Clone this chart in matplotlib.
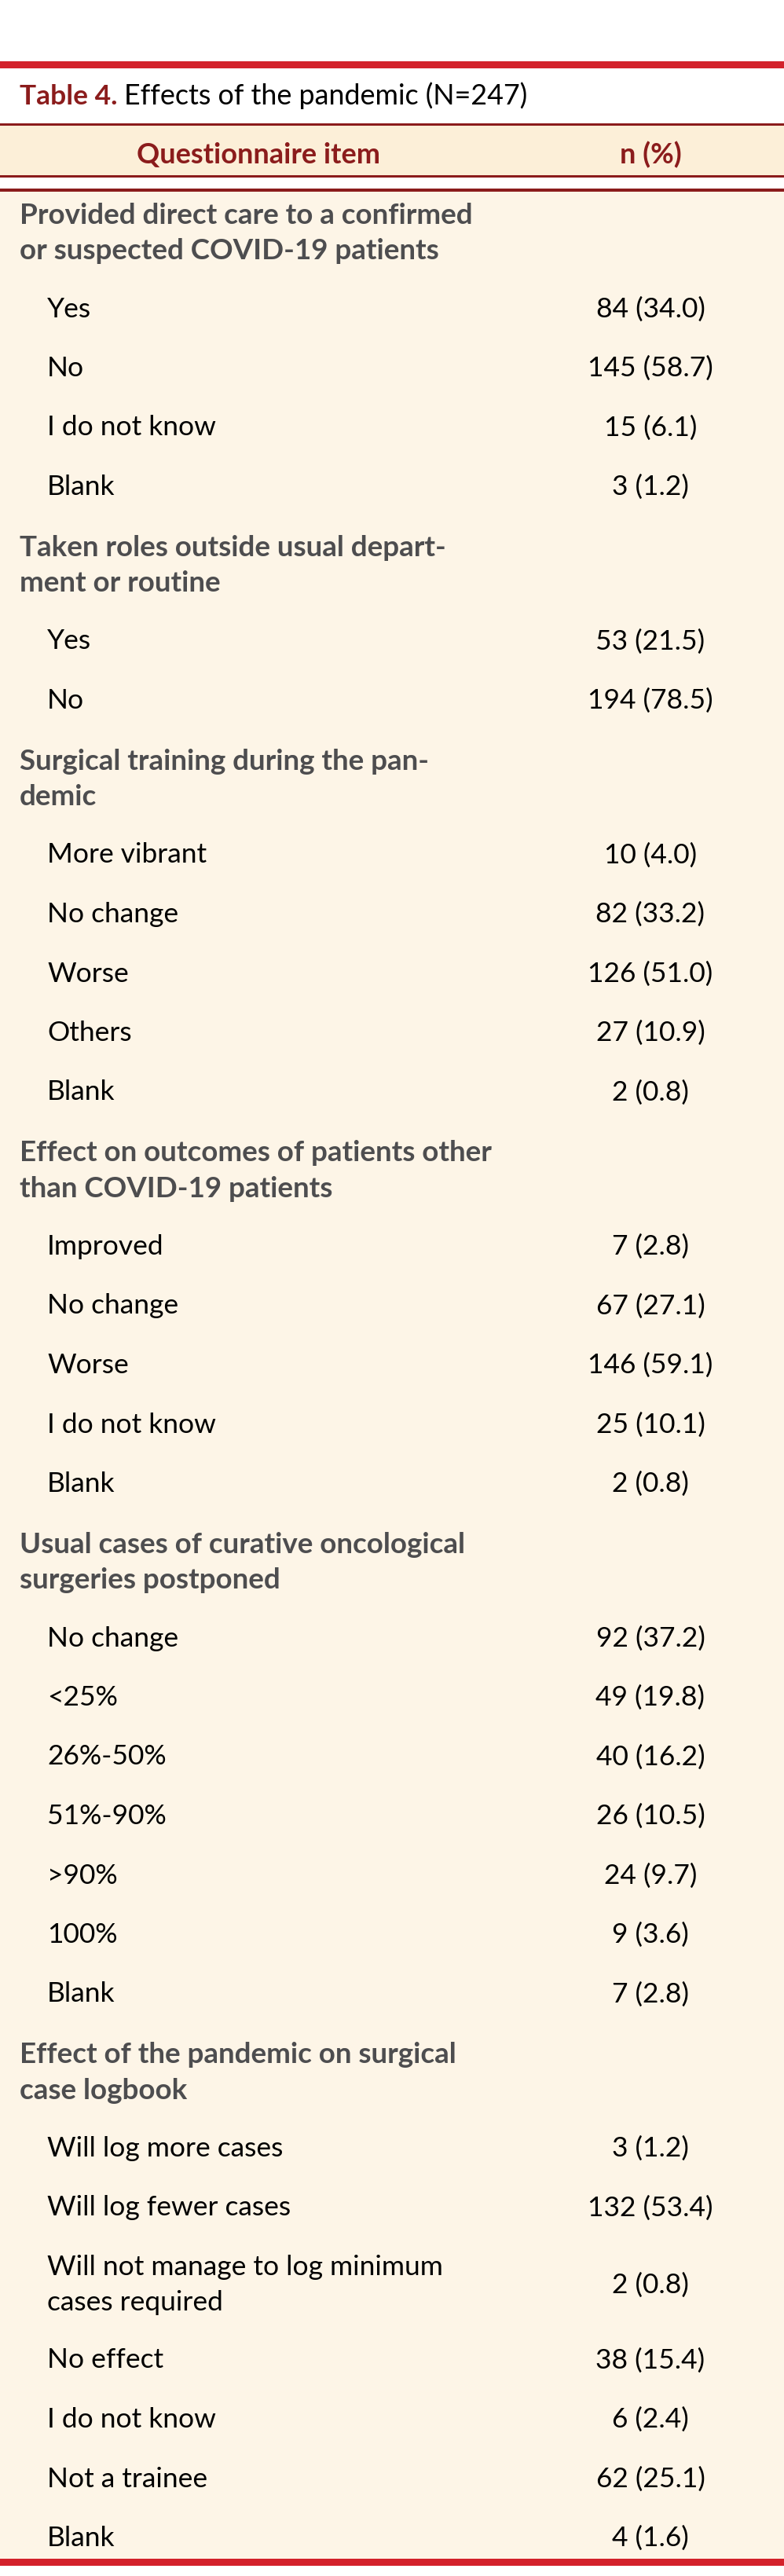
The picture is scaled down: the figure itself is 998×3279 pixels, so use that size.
import matplotlib
matplotlib.use("Agg")
import matplotlib.pyplot as plt
from matplotlib.patches import Rectangle

# ---------------- data ----------------
title_label = "Table 4."
title_text = "Effects of the pandemic (N=247)"
col_headers = ["Questionnaire item", "n (%)"]

q1_title = ["Provided direct care to a confirmed", "or suspected COVID-19 patients"]
q1_labels = ["Yes", "No", "I do not know", "Blank"]
q1_n = [84, 145, 15, 3]
q1_pct = [34.0, 58.7, 6.1, 1.2]

q2_title = ["Taken roles outside usual depart-", "ment or routine"]
q2_labels = ["Yes", "No"]
q2_n = [53, 194]
q2_pct = [21.5, 78.5]

q3_title = ["Surgical training during the pan-", "demic"]
q3_labels = ["More vibrant", "No change", "Worse", "Others", "Blank"]
q3_n = [10, 82, 126, 27, 2]
q3_pct = [4.0, 33.2, 51.0, 10.9, 0.8]

q4_title = ["Effect on outcomes of patients other", "than COVID-19 patients"]
q4_labels = ["Improved", "No change", "Worse", "I do not know", "Blank"]
q4_n = [7, 67, 146, 25, 2]
q4_pct = [2.8, 27.1, 59.1, 10.1, 0.8]

q5_title = ["Usual cases of curative oncological", "surgeries postponed"]
q5_labels = ["No change", "<25%", "26%-50%", "51%-90%", ">90%", "100%", "Blank"]
q5_n = [92, 49, 40, 26, 24, 9, 7]
q5_pct = [37.2, 19.8, 16.2, 10.5, 9.7, 3.6, 2.8]

q6_title = ["Effect of the pandemic on surgical", "case logbook"]
q6_labels = ["Will log more cases", "Will log fewer cases",
             "Will not manage to log minimum\ncases required",
             "No effect", "I do not know", "Not a trainee", "Blank"]
q6_n = [3, 132, 2, 38, 6, 62, 4]
q6_pct = [1.2, 53.4, 0.8, 15.4, 2.4, 25.1, 1.6]

groups = [
    (q1_title, q1_labels, q1_n, q1_pct),
    (q2_title, q2_labels, q2_n, q2_pct),
    (q3_title, q3_labels, q3_n, q3_pct),
    (q4_title, q4_labels, q4_n, q4_pct),
    (q5_title, q5_labels, q5_n, q5_pct),
    (q6_title, q6_labels, q6_n, q6_pct),
]

# ---------------- style ----------------
W, H = 998, 3279
RED = "#D3212B"
DRED = "#8B1C1C"
HEAD_BG = "#FCEFD8"
BODY_BG = "#FDF5E7"
GRAY = "#4D4D4F"
FONT = ["Lato", "DejaVu Sans"]
FS = 25.5
FS_HEAD = 26.5

fig = plt.figure(figsize=(W / 100, H / 100), dpi=100)
ax = fig.add_axes([0, 0, 1, 1])
ax.set_xlim(0, W)
ax.set_ylim(H, 0)
ax.axis("off")


def band(y0, y1, color):
    ax.add_patch(Rectangle((0, y0), W, y1 - y0, facecolor=color,
                           edgecolor="none", linewidth=0))


# backgrounds and rules
band(157, 226, HEAD_BG)
band(241, 3258, BODY_BG)
band(78, 87, RED)
band(156.5, 159.5, DRED)
band(222.5, 226, DRED)
band(240, 243.5, DRED)
band(3257, 3266, RED)

# title
t1 = ax.text(25, 133, title_label + " ", fontsize=FS, family=FONT,
             fontweight="bold", color=DRED, va="baseline", ha="left")
fig.canvas.draw()
bb = t1.get_window_extent()
x_after = ax.transData.inverted().transform((bb.x1, 0))[0]
ax.text(x_after, 133, title_text, fontsize=FS + 0.3, family=FONT,
        color="black", va="baseline", ha="left")

# column headers
ax.text(329, 208, col_headers[0], fontsize=FS + 0.5, family=FONT,
        fontweight="bold", color=DRED, va="baseline", ha="center")
ax.text(828, 208, col_headers[1], fontsize=FS + 0.5, family=FONT,
        fontweight="bold", color=DRED, va="baseline", ha="center")

# body
X_HEAD = 25
X_ITEM = 60
X_VAL = 828
LINE = 45
STEP = 75.5
HEAD_TO_ITEM = 73.5
ITEM_TO_HEAD = 78
BASE = 13  # center -> baseline offset

y = 272  # center of first header line
for gi, (gtitle, labels, ns, pcts) in enumerate(groups):
    for li, line in enumerate(gtitle):
        ax.text(X_HEAD, y + li * LINE + BASE, line, fontsize=FS_HEAD,
                family=FONT, fontweight="bold", color=GRAY,
                va="baseline", ha="left")
    y = y + (len(gtitle) - 1) * LINE + HEAD_TO_ITEM
    for ii, (lab, n, p) in enumerate(zip(labels, ns, pcts)):
        lines = lab.split("\n")
        for li, line in enumerate(lines):
            ax.text(X_ITEM, y + li * LINE + BASE, line, fontsize=FS,
                    family=FONT, color="black", va="baseline", ha="left")
        ymid = y + (len(lines) - 1) * LINE / 2
        ax.text(X_VAL, ymid + BASE, f"{n} ({p:.1f})", fontsize=FS,
                family=FONT, color="black", va="baseline", ha="center")
        last = y + (len(lines) - 1) * LINE
        if ii < len(labels) - 1:
            y = last + (STEP if len(lines) == 1 else HEAD_TO_ITEM)
        else:
            y = last + ITEM_TO_HEAD

fig.savefig("out.png", dpi=100, facecolor="white")
